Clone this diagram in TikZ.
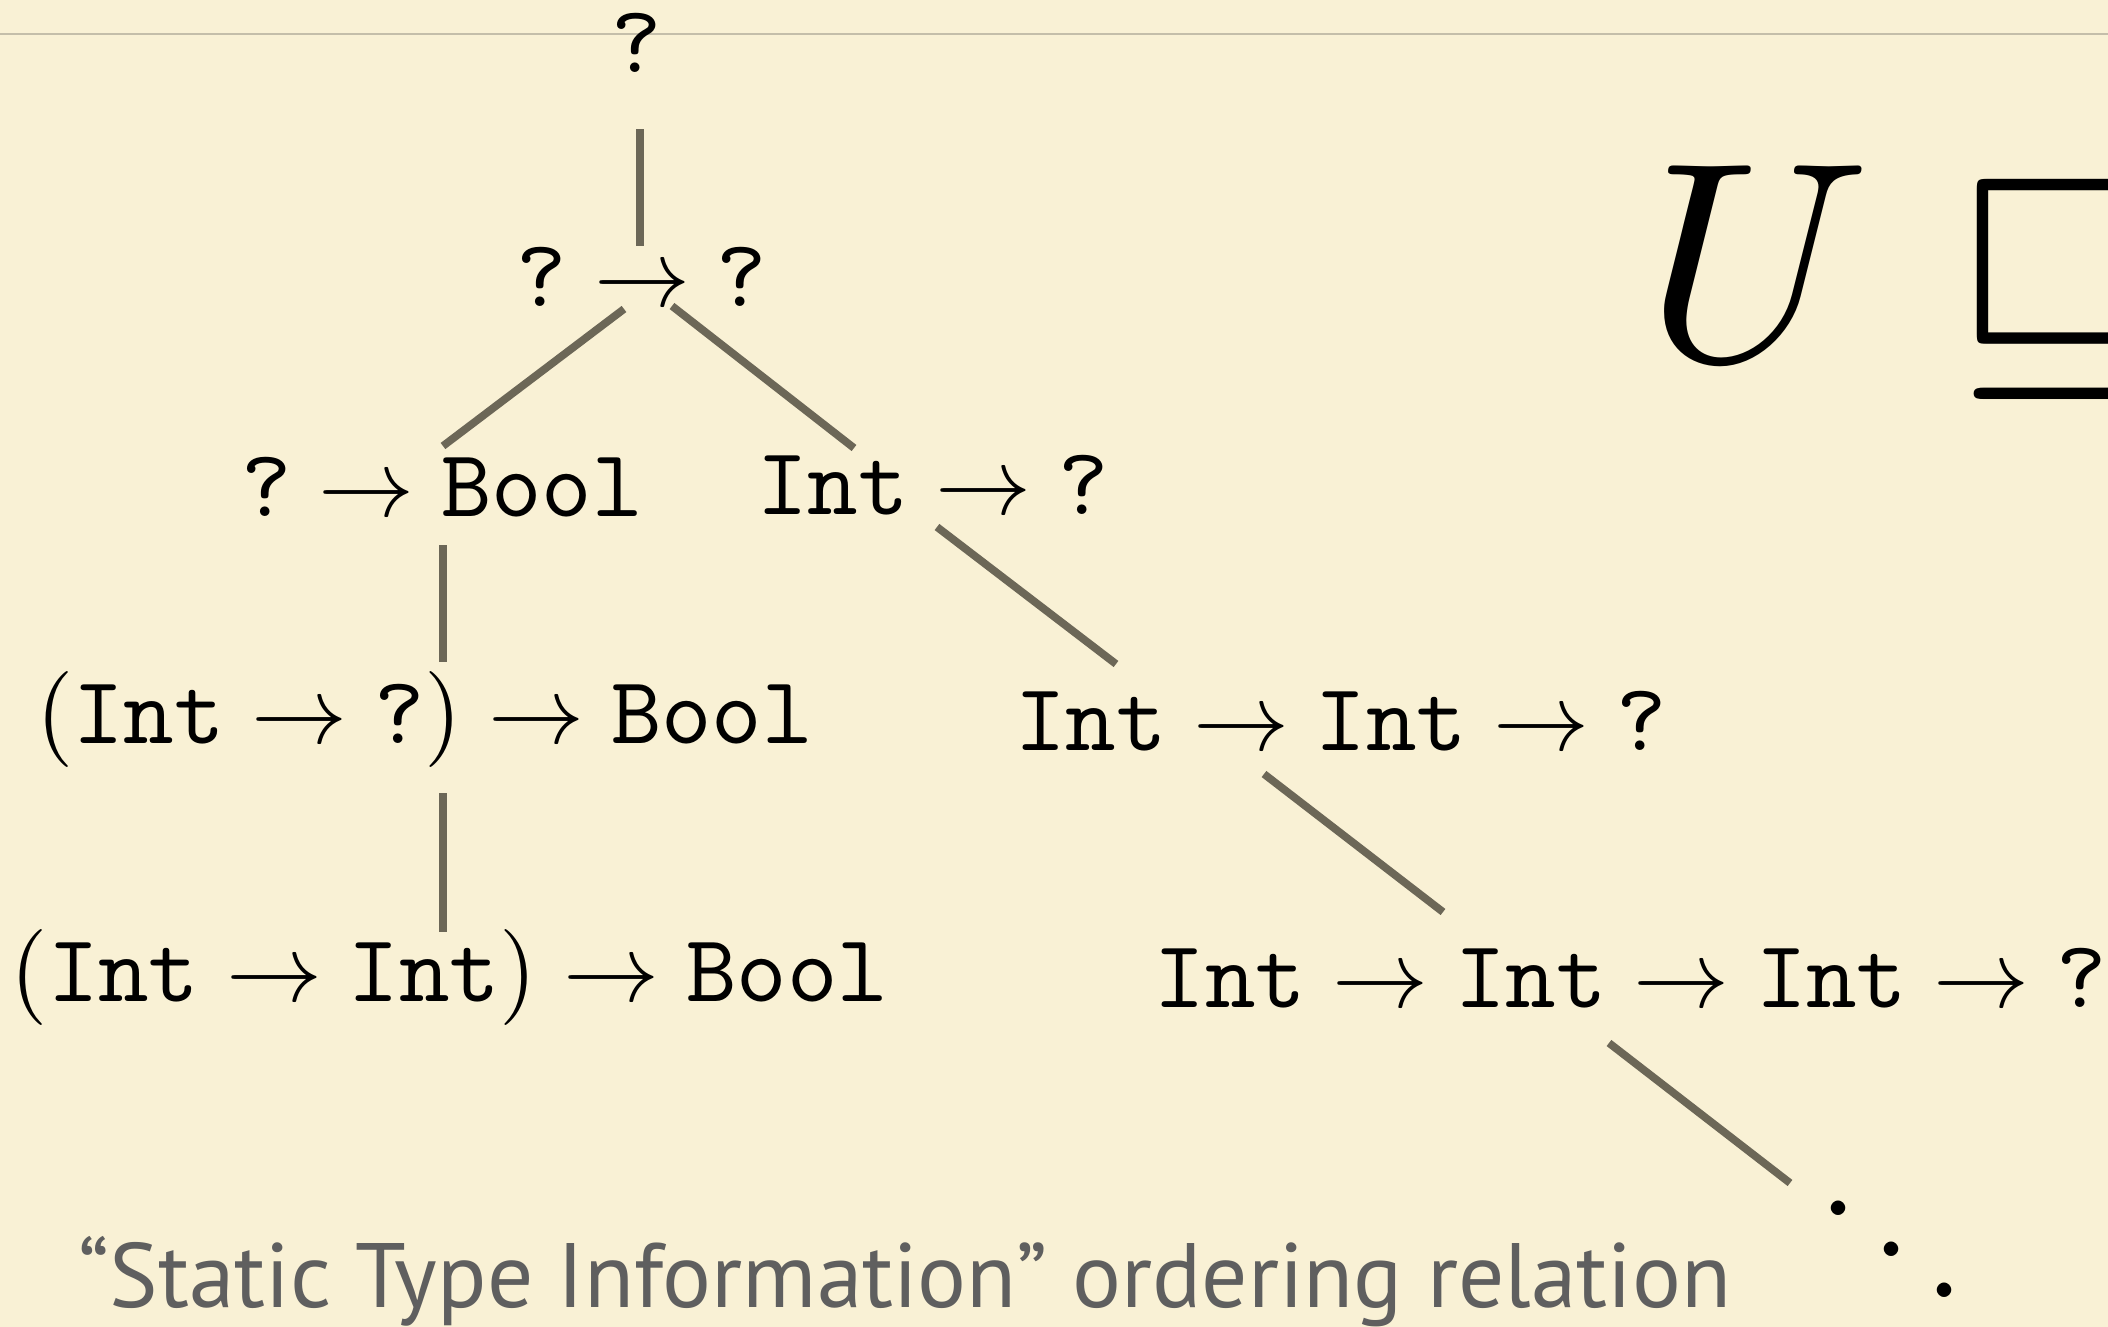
\documentclass[tikz,border=0pt]{standalone}
\usepackage{fontspec}
\newfontfamily\captionfont{PT Sans}
\usetikzlibrary{calc}
\definecolor{paper}{RGB}{249,241,213}
\definecolor{topline}{RGB}{196,190,170}
\definecolor{edge}{RGB}{108,103,87}
\definecolor{captiongray}{RGB}{95,95,95}
\newcommand{\tyname}[1]{\mathtt{#1}}
\newcommand{\dynty}{\mbox{\ttfamily ?}}
\newcommand{\typeset}[1]{\scalebox{2.73}{$#1$}}

\begin{document}
\begin{tikzpicture}[x=0.01cm,y=-0.01cm,
  typenode/.style={inner sep=0pt, anchor=base},
  conn/.style={draw=edge, line width=2.2pt}]
  % page
  \fill[paper] (0,0) rectangle (2108,1327);
  \useasboundingbox (0,0) rectangle (2108,1327);
  \draw[topline, line width=0.8pt] (0,34) -- (2108,34);

  % the types, from least to most informative
  \node[typenode] (dyn)  at (637,72)   {\typeset{\dynty}};
  \node[typenode] (fun)  at (642,306)  {\typeset{\dynty\to\dynty}};
  \node[typenode] (dbool) at (442,516) {\typeset{\dynty\to\tyname{Bool}}};
  \node[typenode] (idyn) at (933,514)  {\typeset{\tyname{Int}\to\dynty}};
  \node[typenode] (hdyn) at (424.5,743) {\typeset{(\tyname{Int}\to\dynty)\to\tyname{Bool}}};
  \node[typenode] (hint) at (449.5,1001) {\typeset{(\tyname{Int}\to\tyname{Int})\to\tyname{Bool}}};
  \node[typenode] (iidyn) at (1341,750) {\typeset{\tyname{Int}\to\tyname{Int}\to\dynty}};
  \node[typenode] (iiidyn) at (1631,1007) {\typeset{\tyname{Int}\to\tyname{Int}\to\tyname{Int}\to\dynty}};
  \node[anchor=base west, inner sep=0pt] (more) at (1811,1311) {\scalebox{3.89}{$\ddots$}};

  % the relation symbol
  \node[anchor=base west, inner sep=0pt] (rel) at (1645,360) {\scalebox{8.1}{$U \sqsubseteq$}};

  % caption
  \node[anchor=base west, inner sep=0pt, text=captiongray,
        font=\captionfont\fontsize{26}{30}\selectfont] (caption) at (78,1307)
        {“Static Type Information” ordering relation};

  % ordering edges
  \draw[conn] ($(dyn.base)+(3,57)$) -- ($(fun.base)+(-2,-60)$);
  \draw[conn] ($(fun.base)+(-18,3)$) -- ($(dbool.base)+(1,-70)$);
  \draw[conn] ($(fun.base)+(30,0)$) -- ($(idyn.base)+(-79,-66)$);
  \draw[conn] ($(dbool.base)+(1,29)$) -- ($(hdyn.base)+(18.5,-81)$);
  \draw[conn] ($(hdyn.base)+(18.5,50)$) -- ($(hint.base)+(-6.5,-69)$);
  \draw[conn] ($(idyn.base)+(4,13)$) -- ($(iidyn.base)+(-225,-86)$);
  \draw[conn] ($(iidyn.base)+(-77,24)$) -- ($(iiidyn.base)+(-188,-95)$);
  \draw[conn] ($(iiidyn.base)+(-22,36)$) -- ($(more.base west)+(-21,-128)$);
\end{tikzpicture}
\end{document}
